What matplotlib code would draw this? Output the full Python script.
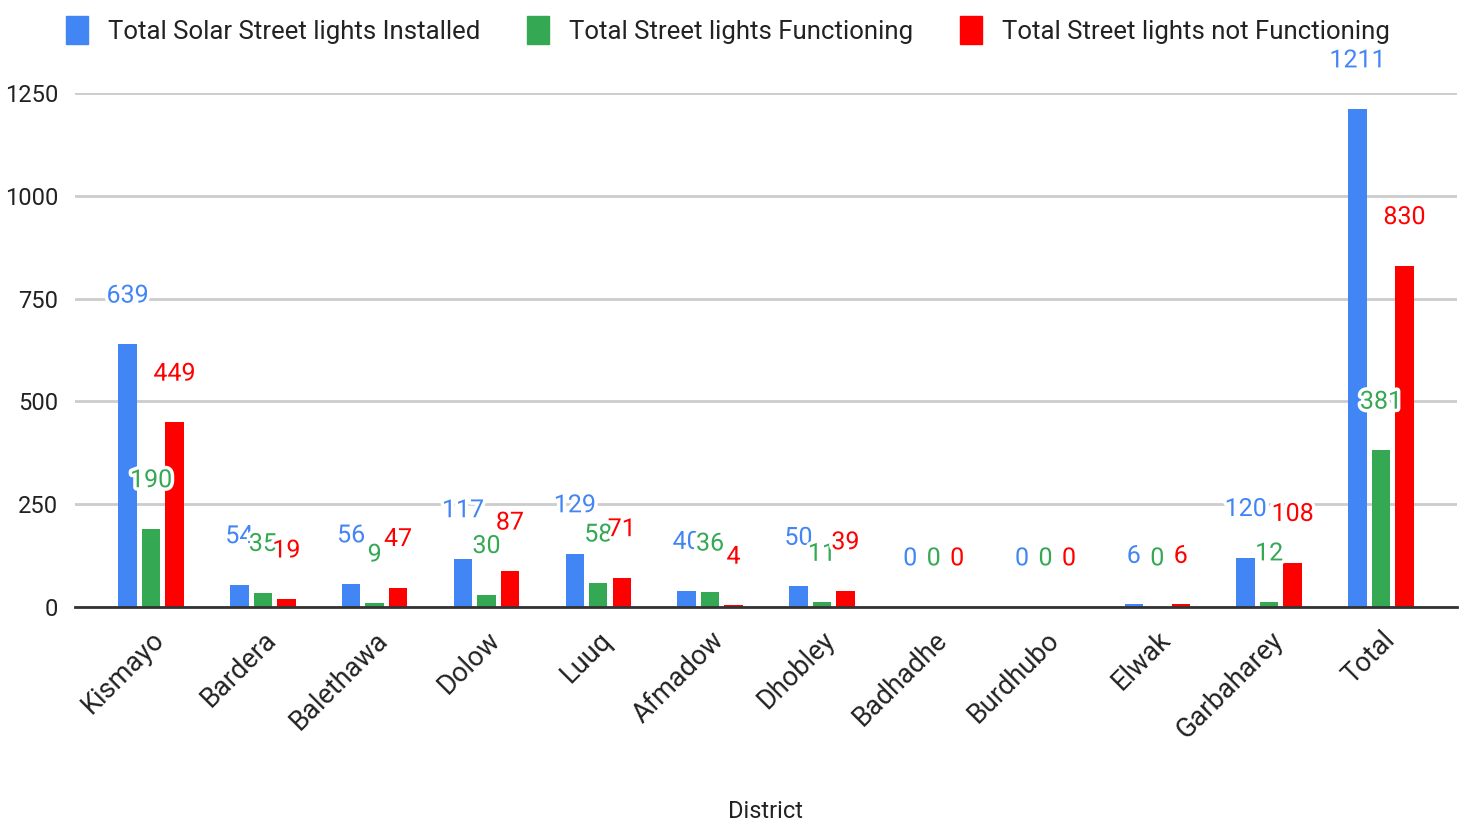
import numpy as np
import matplotlib
matplotlib.use("Agg")
import matplotlib.pyplot as plt
import matplotlib.patheffects as pe
from matplotlib.patches import Patch

districts = ["Kismayo", "Bardera", "Balethawa", "Dolow", "Luuq", "Afmadow",
             "Dhobley", "Badhadhe", "Burdhubo", "Elwak", "Garbaharey", "Total"]
installed = [639, 54, 56, 117, 129, 40, 50, 0, 0, 6, 120, 1211]
functioning = [190, 35, 9, 30, 58, 36, 11, 0, 0, 0, 12, 381]
not_functioning = [449, 19, 47, 87, 71, 4, 39, 0, 0, 6, 108, 830]

series_names = ["Total Solar Street lights Installed",
                "Total Street lights Functioning",
                "Total Street lights not Functioning"]
colors = ["#4285F4", "#34A853", "#FF0000"]

plt.rcParams['font.family'] = ['Roboto', 'DejaVu Sans']

fig = plt.figure(figsize=(14.65, 8.31), dpi=100)
ax = fig.add_axes([0.0512, 0.2696, 0.9433, 0.6185])

x = np.arange(len(districts))
step = 0.21
width = 0.165
for i, (vals, c) in enumerate(zip([installed, functioning, not_functioning], colors)):
    xs = x + (i - 1) * step
    ax.bar(xs, vals, width=width, color=c, linewidth=0, zorder=3)
    for xi, v in zip(xs, vals):
        # value label sits a fixed distance above the bar top, white halo like the original
        ax.annotate(str(v), (xi, v), xytext=(0, 35), textcoords="offset points",
                    ha="center", va="center", color=c, fontsize=18, zorder=5,
                    annotation_clip=False,
                    path_effects=[pe.withStroke(linewidth=5, foreground="white")])

ax.set_xlim(-0.68, 11.68)
ax.set_ylim(0, 1250)
ax.set_yticks([0, 250, 500, 750, 1000, 1250])
ax.yaxis.grid(True, color="#cccccc", linewidth=2, zorder=0)
ax.set_axisbelow(True)
for s in ["top", "right", "left"]:
    ax.spines[s].set_visible(False)
ax.spines["bottom"].set_color("#333333")
ax.spines["bottom"].set_linewidth(2)
ax.spines["bottom"].set_zorder(4)
ax.tick_params(axis="both", length=0, labelsize=17, colors="#222222")
ax.tick_params(axis="y", pad=12)
ax.set_xticks(x)
ax.set_xticklabels(districts, rotation=45, ha="right", rotation_mode="anchor",
                   fontsize=19.5)
ax.tick_params(axis="x", pad=14)
ax.set_xlabel("District", fontsize=17, color="#222222")
ax.xaxis.set_label_coords(0.5, -0.375)

handles = [Patch(facecolor=c, edgecolor=c) for c in colors]
fig.legend(handles, series_names, loc="upper center", bbox_to_anchor=(0.497, 1.008),
           ncol=3, frameon=False, fontsize=18.5, handlelength=0.85, handleheight=1.3,
           columnspacing=1.8, handletextpad=0.8, labelcolor="#222222")

fig.savefig("out.png", dpi=100)
